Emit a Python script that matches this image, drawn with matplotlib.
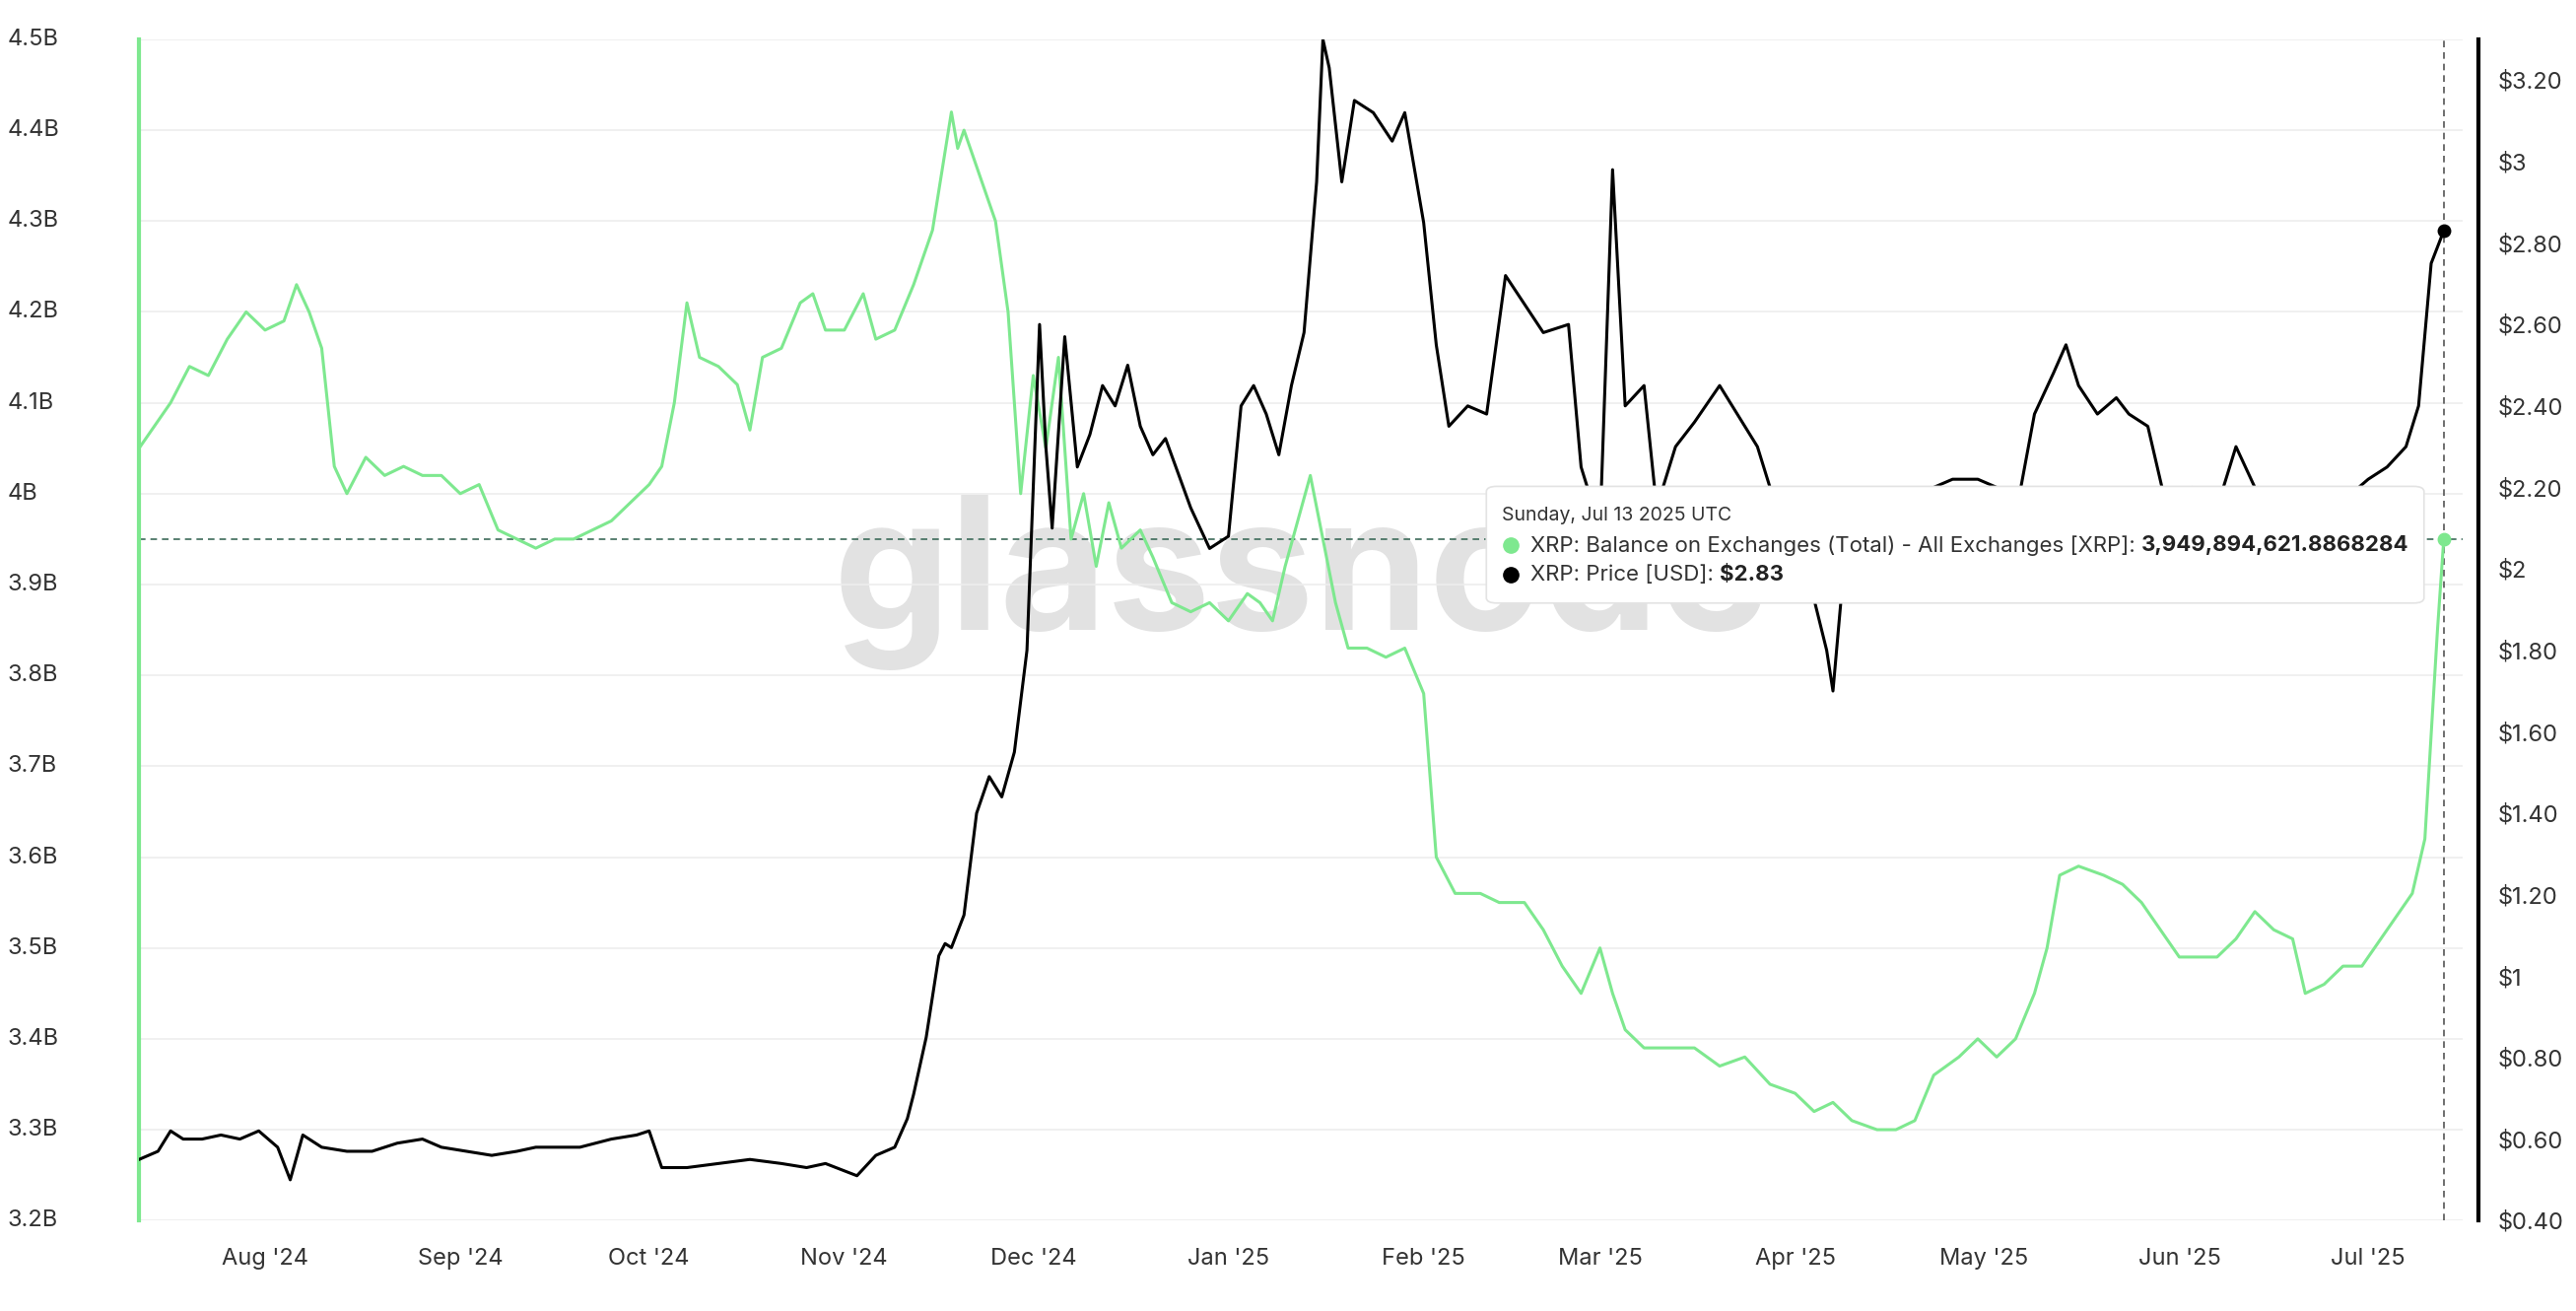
import matplotlib.pyplot as plt
import matplotlib.dates as mdates
import matplotlib.transforms as mtransforms
from matplotlib.patches import FancyBboxPatch
import numpy as np
from datetime import datetime

plt.rcParams["font.family"] = ["Inter", "DejaVu Sans"]

GREEN = "#7ee88f"

bal_dates = ["2024-07-12","2024-07-14","2024-07-17","2024-07-20","2024-07-23","2024-07-26","2024-07-29","2024-08-01","2024-08-04","2024-08-06","2024-08-08","2024-08-10","2024-08-12","2024-08-14","2024-08-17","2024-08-20","2024-08-23","2024-08-26","2024-08-29","2024-09-01","2024-09-04","2024-09-07","2024-09-10","2024-09-13","2024-09-16","2024-09-19","2024-09-22","2024-09-25","2024-09-28","2024-10-01","2024-10-03","2024-10-05","2024-10-07","2024-10-09","2024-10-12","2024-10-15","2024-10-17","2024-10-19","2024-10-22","2024-10-25","2024-10-27","2024-10-29","2024-11-01","2024-11-04","2024-11-06","2024-11-09","2024-11-12","2024-11-15","2024-11-18","2024-11-19","2024-11-20","2024-11-22","2024-11-25","2024-11-27","2024-11-29","2024-12-01","2024-12-03","2024-12-05","2024-12-07","2024-12-09","2024-12-11","2024-12-13","2024-12-15","2024-12-18","2024-12-20","2024-12-23","2024-12-26","2024-12-29","2025-01-01","2025-01-04","2025-01-06","2025-01-08","2025-01-10","2025-01-12","2025-01-14","2025-01-16","2025-01-18","2025-01-20","2025-01-23","2025-01-26","2025-01-29","2025-02-01","2025-02-03","2025-02-06","2025-02-10","2025-02-13","2025-02-17","2025-02-20","2025-02-23","2025-02-26","2025-03-01","2025-03-03","2025-03-05","2025-03-08","2025-03-12","2025-03-16","2025-03-20","2025-03-24","2025-03-28","2025-04-01","2025-04-04","2025-04-07","2025-04-10","2025-04-14","2025-04-17","2025-04-20","2025-04-23","2025-04-27","2025-04-30","2025-05-03","2025-05-06","2025-05-09","2025-05-11","2025-05-13","2025-05-16","2025-05-20","2025-05-23","2025-05-26","2025-05-29","2025-06-01","2025-06-04","2025-06-07","2025-06-10","2025-06-13","2025-06-16","2025-06-19","2025-06-21","2025-06-24","2025-06-27","2025-06-30","2025-07-03","2025-07-06","2025-07-08","2025-07-10","2025-07-12","2025-07-13"]
bal_vals = [4.05,4.07,4.10,4.14,4.13,4.17,4.20,4.18,4.19,4.23,4.20,4.16,4.03,4.00,4.04,4.02,4.03,4.02,4.02,4.00,4.01,3.96,3.95,3.94,3.95,3.95,3.96,3.97,3.99,4.01,4.03,4.10,4.21,4.15,4.14,4.12,4.07,4.15,4.16,4.21,4.22,4.18,4.18,4.22,4.17,4.18,4.23,4.29,4.42,4.38,4.40,4.36,4.30,4.20,4.00,4.13,4.05,4.15,3.95,4.00,3.92,3.99,3.94,3.96,3.93,3.88,3.87,3.88,3.86,3.89,3.88,3.86,3.92,3.97,4.02,3.95,3.88,3.83,3.83,3.82,3.83,3.78,3.60,3.56,3.56,3.55,3.55,3.52,3.48,3.45,3.50,3.45,3.41,3.39,3.39,3.39,3.37,3.38,3.35,3.34,3.32,3.33,3.31,3.30,3.30,3.31,3.36,3.38,3.40,3.38,3.40,3.45,3.50,3.58,3.59,3.58,3.57,3.55,3.52,3.49,3.49,3.49,3.51,3.54,3.52,3.51,3.45,3.46,3.48,3.48,3.51,3.54,3.56,3.62,3.85,3.95]

price_dates = ["2024-07-12","2024-07-15","2024-07-17","2024-07-19","2024-07-22","2024-07-25","2024-07-28","2024-07-31","2024-08-03","2024-08-05","2024-08-07","2024-08-10","2024-08-14","2024-08-18","2024-08-22","2024-08-26","2024-08-29","2024-09-02","2024-09-06","2024-09-10","2024-09-13","2024-09-16","2024-09-20","2024-09-25","2024-09-29","2024-10-01","2024-10-03","2024-10-07","2024-10-12","2024-10-17","2024-10-22","2024-10-26","2024-10-29","2024-11-03","2024-11-06","2024-11-09","2024-11-11","2024-11-12","2024-11-14","2024-11-16","2024-11-17","2024-11-18","2024-11-20","2024-11-22","2024-11-24","2024-11-26","2024-11-28","2024-11-30","2024-12-02","2024-12-03","2024-12-04","2024-12-06","2024-12-08","2024-12-10","2024-12-12","2024-12-14","2024-12-16","2024-12-18","2024-12-20","2024-12-22","2024-12-26","2024-12-29","2025-01-01","2025-01-03","2025-01-05","2025-01-07","2025-01-09","2025-01-11","2025-01-13","2025-01-15","2025-01-16","2025-01-17","2025-01-19","2025-01-21","2025-01-24","2025-01-27","2025-01-29","2025-02-01","2025-02-03","2025-02-05","2025-02-08","2025-02-11","2025-02-14","2025-02-17","2025-02-20","2025-02-24","2025-02-26","2025-03-01","2025-03-03","2025-03-05","2025-03-08","2025-03-10","2025-03-13","2025-03-16","2025-03-20","2025-03-22","2025-03-26","2025-03-29","2025-04-02","2025-04-06","2025-04-07","2025-04-09","2025-04-12","2025-04-15","2025-04-20","2025-04-23","2025-04-26","2025-04-30","2025-05-03","2025-05-06","2025-05-09","2025-05-12","2025-05-14","2025-05-16","2025-05-19","2025-05-22","2025-05-24","2025-05-27","2025-05-30","2025-06-03","2025-06-07","2025-06-10","2025-06-13","2025-06-16","2025-06-19","2025-06-22","2025-06-25","2025-06-28","2025-07-01","2025-07-04","2025-07-07","2025-07-09","2025-07-11","2025-07-13"]
price_vals = [0.55,0.57,0.62,0.60,0.60,0.61,0.60,0.62,0.58,0.50,0.61,0.58,0.57,0.57,0.59,0.60,0.58,0.57,0.56,0.57,0.58,0.58,0.58,0.60,0.61,0.62,0.53,0.53,0.54,0.55,0.54,0.53,0.54,0.51,0.56,0.58,0.65,0.71,0.85,1.05,1.08,1.07,1.15,1.40,1.49,1.44,1.55,1.80,2.60,2.30,2.10,2.57,2.25,2.33,2.45,2.40,2.50,2.35,2.28,2.32,2.15,2.05,2.08,2.40,2.45,2.38,2.28,2.45,2.58,2.95,3.30,3.23,2.95,3.15,3.12,3.05,3.12,2.85,2.55,2.35,2.40,2.38,2.72,2.65,2.58,2.60,2.25,2.10,2.98,2.40,2.45,2.15,2.30,2.36,2.45,2.40,2.30,2.15,2.05,1.80,1.70,2.05,2.10,2.10,2.10,2.20,2.22,2.22,2.20,2.13,2.38,2.48,2.55,2.45,2.38,2.42,2.38,2.35,2.15,2.20,2.15,2.30,2.20,2.18,2.18,2.05,2.18,2.18,2.22,2.25,2.30,2.40,2.75,2.83]

bal_x = [datetime.strptime(d, "%Y-%m-%d") for d in bal_dates]
price_x = [datetime.strptime(d, "%Y-%m-%d") for d in price_dates]

fig = plt.figure(figsize=(26.14, 13.30), dpi=100)
ax = fig.add_axes([0.054, 0.069, 0.902, 0.901])
ax2 = ax.twinx()

ax.set_ylim(3.2, 4.5)
ax2.set_ylim(0.4, 3.3)
ax.set_xlim(datetime(2024, 7, 12), datetime(2025, 7, 16))

yt = np.round(np.arange(3.2, 4.51, 0.1), 1)
ax.set_yticks(yt)
ax.set_yticklabels([])
ylab_tr = mtransforms.blended_transform_factory(fig.transFigure, ax.transData)
for v in yt:
    ax.text(0.003, v, f"{v:g}B", transform=ylab_tr, fontsize=17, color="#333333",
            ha="left", va="center", clip_on=False)

pt = [0.4, 0.6, 0.8, 1.0, 1.2, 1.4, 1.6, 1.8, 2.0, 2.2, 2.4, 2.6, 2.8, 3.0, 3.2]
ax2.set_yticks(pt)
ax2.set_yticklabels([f"${v:.2f}" if v % 1 else f"${int(v)}" for v in pt])

ax.grid(axis="y", color="#eeeeee", lw=1.2)
ax.set_axisbelow(True)

ax.text(0.50, 0.54, "glassnode", transform=ax.transAxes, fontsize=135, color="#e2e2e2",
        ha="center", va="center", fontweight="bold", zorder=0)

ax.plot(bal_x, bal_vals, color=GREEN, lw=2.2, zorder=3)
ax2.plot(price_x, price_vals, color="black", lw=2.2, zorder=3)

ax.axhline(bal_vals[-1], color="#3d6b5a", lw=1.2, ls=(0, (4, 3)))
ax.axvline(bal_x[-1], color="#555555", lw=1.2, ls=(0, (4, 3)))
ax.plot(bal_x[-1], bal_vals[-1], "o", color=GREEN, ms=9, zorder=5)
ax2.plot(price_x[-1], price_vals[-1], "o", color="black", ms=9, zorder=5)

for s in ["top", "bottom"]:
    ax.spines[s].set_visible(False)
    ax2.spines[s].set_visible(False)
ax.spines["left"].set_color(GREEN)
ax.spines["left"].set_linewidth(3)
ax2.spines["left"].set_visible(False)
ax.spines["right"].set_visible(False)
ax2.spines["right"].set_color("black")
ax2.spines["right"].set_linewidth(3)
ax2.spines["right"].set_position(("axes", 1.007))

ax.tick_params(axis="y", length=0)
ax2.tick_params(axis="y", length=0, labelsize=17, labelcolor="#333333", pad=14)

ax.xaxis.set_major_locator(mdates.MonthLocator())
ax.xaxis.set_major_formatter(mdates.DateFormatter("%b '%y"))
ax.tick_params(axis="x", length=0, labelsize=17, labelcolor="#333333", pad=20)

# tooltip (figure coordinates, drawn above both axes)
p = FancyBboxPatch((0.577, 0.54), 0.364, 0.089, boxstyle="round,pad=0,rounding_size=0.004",
                   transform=fig.transFigure, fc="white", ec="#e3e3e3", lw=1.2, zorder=10)
fig.patches.append(p)
fig.text(0.583, 0.607, "Sunday, Jul 13 2025 UTC", fontsize=14, color="#333333", va="center", zorder=11)
fig.add_artist(plt.Line2D([0.5865], [0.584], marker="o", color=GREEN, ms=11,
                          transform=fig.transFigure, zorder=11))
fig.add_artist(plt.Line2D([0.5865], [0.562], marker="o", color="black", ms=11,
                          transform=fig.transFigure, zorder=11))
t1 = fig.text(0.594, 0.584, "XRP: Balance on Exchanges (Total) - All Exchanges [XRP]: ",
              fontsize=16, color="#333333", va="center", zorder=11)
t2 = fig.text(0.594, 0.562, "XRP: Price [USD]: ", fontsize=16, color="#333333", va="center", zorder=11)
for base, val in ((t1, "3,949,894,621.8868284"), (t2, "$2.83")):
    a = plt.annotate(val, xy=(1, 0.5), xycoords=base, fontsize=16, color="#222222",
                     fontweight="bold", va="center", ha="left", zorder=11, annotation_clip=False)
    a.remove()
    fig.add_artist(a)

fig.savefig("out.png", dpi=100, facecolor="white")
